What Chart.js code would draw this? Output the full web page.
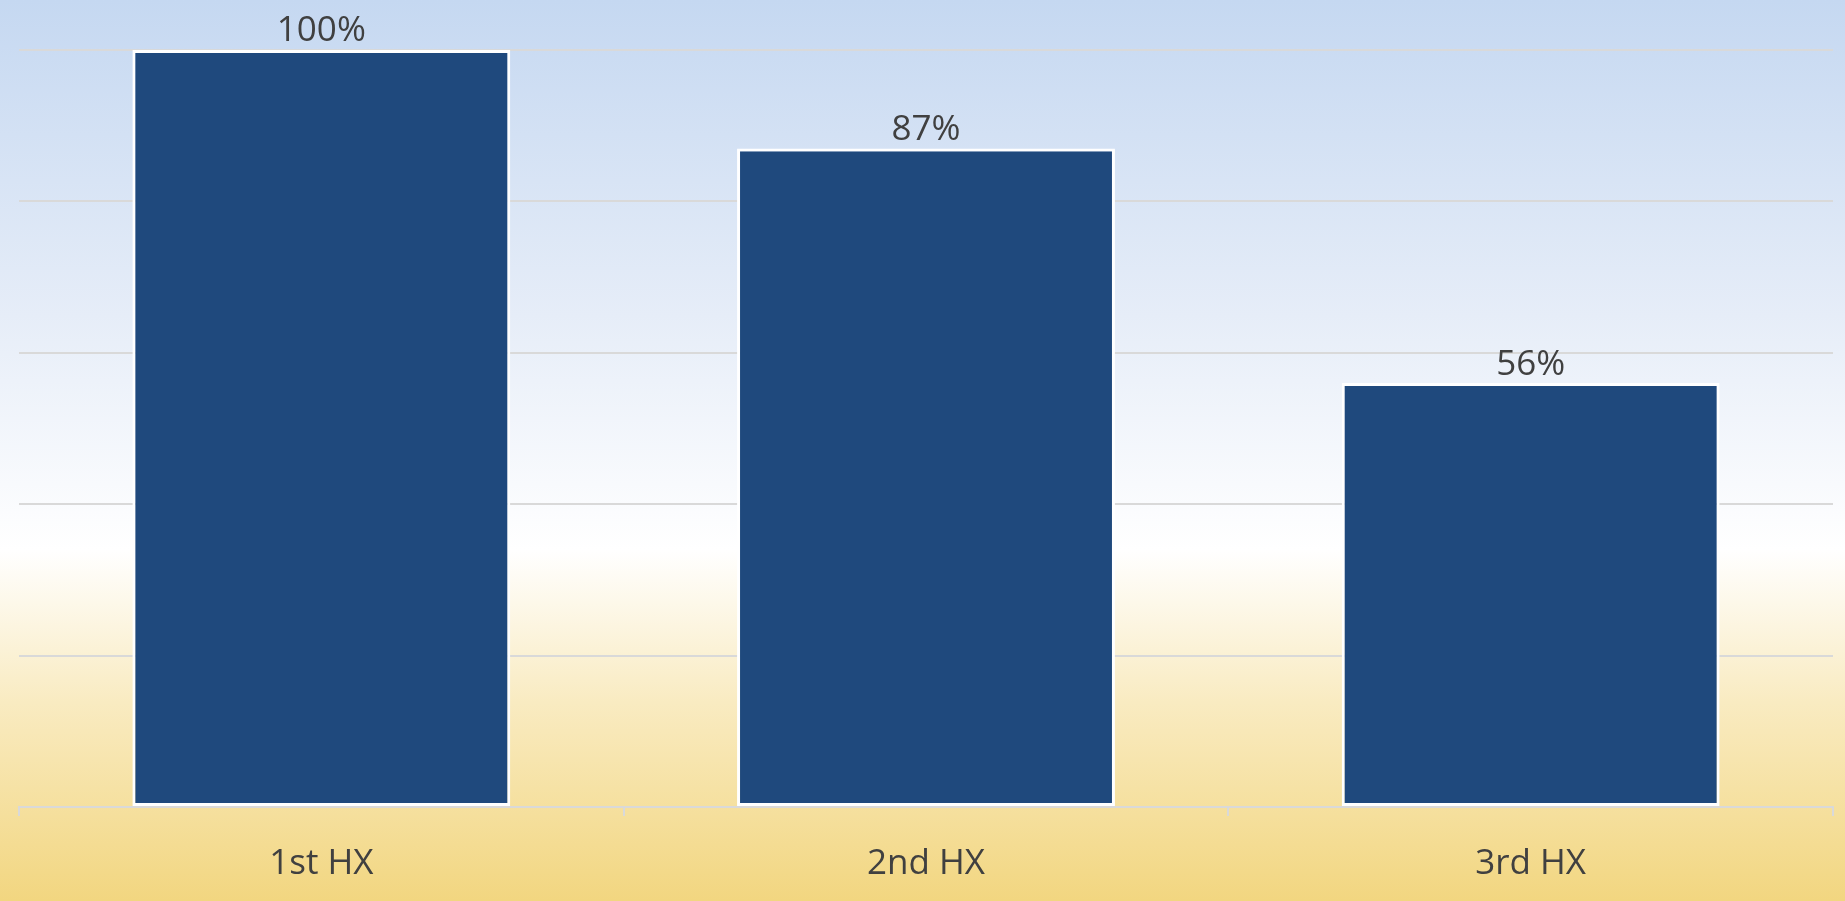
<!DOCTYPE html>
<html>
<head>
<meta charset="utf-8">
<script src="https://cdn.jsdelivr.net/npm/chart.js@4"></script>
<style>
  html, body { margin: 0; padding: 0; }
  body {
    width: 1845px; height: 901px; overflow: hidden;
    background: linear-gradient(to bottom, #c5d8f1 0%, #e6edf8 35%, #ffffff 61%, #f9ebc1 78%, #f2d680 100%);
  }
  canvas { display: block; }
</style>
</head>
<body>
<canvas id="hxChart" width="1845" height="901"></canvas>
<script>
// categories and values (percent)
const categories = ["1st HX", "2nd HX", "3rd HX"];
const percentValues = [100, 87, 56];
const gridTicks = [0, 20, 40, 60, 80, 100];

// labels above each bar
const valueLabels = {
    id: "valueLabels",
    afterDatasetsDraw(chart) {
        const ctx = chart.ctx;
        const meta = chart.getDatasetMeta(0);
        ctx.save();
        ctx.font = "35px 'Open Sans'";
        ctx.fillStyle = "#404040";
        ctx.textAlign = "center";
        ctx.textBaseline = "bottom";
        meta.data.forEach((bar, i) => {
            ctx.fillText(percentValues[i] + "%", bar.x, bar.y - 1);
        });
        ctx.restore();
    }
};

new Chart(document.getElementById("hxChart"), {
    type: "bar",
    data: {
        labels: categories,
        datasets: [{
            data: percentValues,
            backgroundColor: "#1f497d",
            borderColor: "#ffffff",
            borderWidth: 3,
            borderSkipped: false,
            barPercentage: 0.625,
            categoryPercentage: 1
        }]
    },
    options: {
        responsive: false,
        animation: false,
        devicePixelRatio: 1,
        layout: { padding: { top: 50, left: 19, right: 12, bottom: -11 } },
        plugins: {
            legend: { display: false },
            tooltip: { enabled: false }
        },
        scales: {
            x: {
                grid: {
                    drawOnChartArea: false,
                    drawTicks: true,
                    tickLength: 9,
                    color: "#d9d9d9",
                    lineWidth: 2
                },
                border: { color: "#d9d9d9", width: 2 },
                ticks: {
                    padding: 27,
                    color: "#404040",
                    font: { family: "'Open Sans'", size: 35 }
                }
            },
            y: {
                min: 0,
                max: 100,
                afterBuildTicks(scale) {
                    scale.ticks = gridTicks.map(v => ({ value: v }));
                },
                ticks: { display: false },
                grid: { color: "#d9d9d9", lineWidth: 2, drawTicks: false },
                border: { display: false }
            }
        }
    },
    plugins: [valueLabels]
});
</script>
</body>
</html>
